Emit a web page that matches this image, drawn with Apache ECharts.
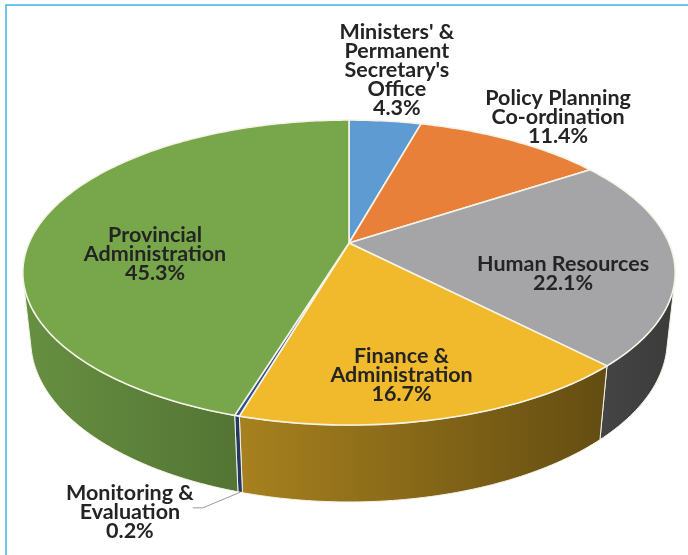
<!DOCTYPE html>
<html><head><meta charset="utf-8">
<script src="https://cdn.jsdelivr.net/npm/echarts@6/dist/echarts.min.js"></script>
<style>html,body{margin:0;padding:0;background:#fff}#c{width:688px;height:555px}</style>
</head><body><div id="c"></div>
<script>
// ---- data ----
const categories = ["Ministers' & Permanent Secretary's Office", "Policy Planning Co-ordination", "Human Resources", "Finance & Administration", "Monitoring & Evaluation", "Provincial Administration"];
const labelLines = ["Ministers' &\nPermanent\nSecretary's\nOffice", "Policy Planning\nCo-ordination", "Human Resources", "Finance &\nAdministration", "Monitoring &\nEvaluation", "Provincial\nAdministration"];
const shares = [4.3, 11.4, 22.1, 16.7, 0.2, 45.3];

// ---- style / layout ----
const colors = ['#5E9BD3', '#E8803A', '#A5A5A7', '#F1BA2C', '#34508F', '#78A74B'];
const CX = 349, CY = 243, SCALE = 320, TILT = 27.3 * Math.PI / 180, PERSP = 0.218, DEPTH = 0.24;
// label placement: [angle shift from slice middle (deg), radius as fraction of pie radius]
const labelLayout = [[-0.5, 1.538], [1.3, 1.293], [11.2, 0.674], [3.5, 0.778], [3.9, 1.445], [-15.5, 0.602]];
// leader lines: offsets (px) of the elbow and end from label centre
const leaderLayout = { 4: [[73, -4.5], [63, -4.5]] };

const total = shares.reduce((a, b) => a + b, 0);
const cum = []; shares.reduce((acc, v, i) => { cum[i] = acc; return acc + v; }, 0);

function project(phiDeg, r, h) {
  const p = phiDeg * Math.PI / 180;
  const X = r * Math.sin(p), yr = r * Math.cos(p);
  const Y = yr * Math.sin(TILT) + h * Math.cos(TILT);
  const Z = 1 + PERSP * (yr * Math.cos(TILT) - h * Math.sin(TILT));
  return [CX + SCALE * X / Z, CY - SCALE * Y / Z];
}
function arc(a0, a1, r, h) {
  const n = Math.max(2, Math.ceil(Math.abs(a1 - a0)) + 1);
  const pts = [];
  for (let i = 0; i < n; i++) pts.push(project(a0 + (a1 - a0) * i / (n - 1), r, h));
  return pts;
}
function shade(hex, f) {
  const n = parseInt(hex.slice(1), 16);
  const r = Math.round(((n >> 16) & 255) * f), g = Math.round(((n >> 8) & 255) * f), b = Math.round((n & 255) * f);
  return 'rgb(' + r + ',' + g + ',' + b + ')';
}
const visLim = Math.acos(-PERSP / Math.cos(TILT)) * 180 / Math.PI; // ~104°
const PHI_L = visLim, PHI_R = 360 - visLim;
const edge = '#F6F4E8';

function renderItem(params, api) {
  const i = params.dataIndex;
  const v = api.value(0);
  const a0 = cum[i] / total * 360, a1 = (cum[i] + v) / total * 360;
  const col = colors[i];
  const children = [];
  // side wall
  const s = Math.max(a0, PHI_L), e = Math.min(a1, PHI_R);
  if (s < e) {
    const pts = arc(s, e, 1, 0).concat(arc(e, s, 1, -DEPTH));
    children.push({
      type: 'polygon', z2: 1, shape: { points: pts },
      style: {
        fill: new echarts.graphic.LinearGradient(CX - SCALE * 1.02, 0, CX + SCALE * 1.02, 0, [
          { offset: 0, color: shade(col, 0.86) }, { offset: 1, color: shade(col, 0.36) }], true),
        stroke: edge, lineWidth: 1, lineJoin: 'round'
      }
    });
  }
  // top face
  const topPts = [project(0, 0, 0)].concat(arc(a0, a1, 1, 0));
  children.push({
    type: 'polygon', z2: 10, shape: { points: topPts },
    style: { fill: col, stroke: edge, lineWidth: 1.6, lineJoin: 'round' }
  });
  // label
  const mid = (a0 + a1) / 2;
  const lp = project(mid + labelLayout[i][0], labelLayout[i][1], 0);
  children.push({
    type: 'text', z2: 30, x: lp[0], y: lp[1],
    style: {
      text: labelLines[i] + '\n' + v.toFixed(1) + '%',
      fill: '#242424', font: 'bold 21.5px Lato', align: 'center', verticalAlign: 'middle', lineHeight: 19
    }
  });
  if (leaderLayout[i]) {
    const st = project(mid, 1, -DEPTH);
    const L = leaderLayout[i];
    children.push({
      type: 'polyline', z2: 25,
      shape: { points: [st, [lp[0] + L[0][0], lp[1] + L[0][1]], [lp[0] + L[1][0], lp[1] + L[1][1]]] },
      style: { stroke: '#9A9A9A', lineWidth: 1, fill: null }
    });
  }
  return { type: 'group', children: children };
}

const chart = echarts.init(document.getElementById('c'), null, { renderer: 'canvas' });
chart.setOption({
  backgroundColor: '#ffffff',
  animation: false,
  graphic: [{
    type: 'rect', silent: true, z: 100,
    shape: { x: 6, y: 5, width: 760, height: 640 },
    style: { fill: null, stroke: '#3BB3E6', lineWidth: 1.5 }
  }],
  series: [{
    type: 'custom',
    coordinateSystem: 'none',
    renderItem: renderItem,
    data: shares.map((v, i) => ({ name: categories[i], value: [v] }))
  }]
});
</script></body></html>
